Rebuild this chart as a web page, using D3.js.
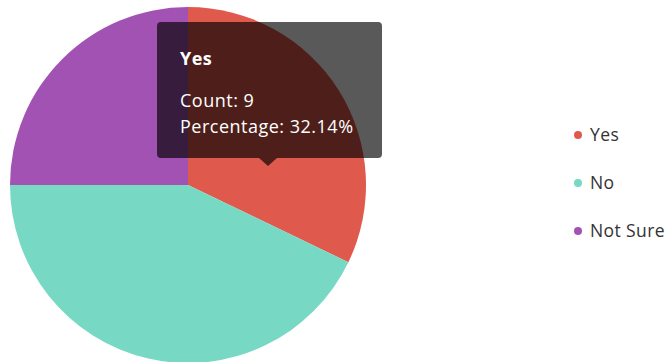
<!DOCTYPE html>
<html>
<head>
<meta charset="utf-8">
<script src="https://cdn.jsdelivr.net/npm/d3@7"></script>
<style>
  html, body { margin: 0; padding: 0; background: #fff; }
  svg { display: block; font-family: "Open Sans", Lato, sans-serif; }
</style>
</head>
<body>
<svg id="chart" width="671" height="362"></svg>
<script>
// Survey answers
const categories = ["Yes", "No", "Not Sure"];
const counts = [9, 12, 7];
const colors = ["#df5a4c", "#77d8c3", "#a152b2"];

// Answer highlighted in the tooltip
const activeCategory = "Yes";

const svg = d3.select("#chart");

const cx = 188, cy = 185, radius = 178;

const color = d3.scaleOrdinal().domain(categories).range(colors);
const data = categories.map((c, i) => ({ category: c, count: counts[i] }));
const total = d3.sum(counts);

const pie = d3.pie().sort(null).value(d => d.count);
const arc = d3.arc().innerRadius(0).outerRadius(radius);

const g = svg.append("g").attr("transform", `translate(${cx},${cy})`);
g.selectAll("path.slice")
  .data(pie(data))
  .join("path")
  .attr("class", "slice")
  .attr("d", arc)
  .attr("fill", d => color(d.data.category));

// Legend
const legend = svg.append("g").attr("transform", "translate(578,135)");
const item = legend.selectAll("g.item")
  .data(categories)
  .join("g")
  .attr("class", "item")
  .attr("transform", (d, i) => `translate(0,${i * 48})`);
item.append("circle").attr("r", 4).attr("fill", d => color(d));
item.append("text")
  .attr("x", 12)
  .attr("dy", "0.35em")
  .attr("font-size", 17.5)
  .attr("letter-spacing", 0.4)
  .attr("fill", "#333")
  .text(d => d);

// Tooltip
const active = data.find(d => d.category === activeCategory);
const pct = d3.format(".2f")(active.count / total * 100);
const tip = svg.append("g").attr("transform", "translate(157,22)");
const tw = 225, th = 136, arrowX = 111, arrowW = 9, arrowH = 8;
tip.append("path")
  .attr("d", (() => {
    const p = d3.path(), r = 4;
    p.moveTo(r, 0);
    p.lineTo(tw - r, 0); p.arcTo(tw, 0, tw, r, r);
    p.lineTo(tw, th - r); p.arcTo(tw, th, tw - r, th, r);
    p.lineTo(arrowX + arrowW, th); p.lineTo(arrowX, th + arrowH); p.lineTo(arrowX - arrowW, th);
    p.lineTo(r, th); p.arcTo(0, th, 0, th - r, r);
    p.lineTo(0, r); p.arcTo(0, 0, r, 0, r);
    p.closePath();
    return p.toString();
  })())
  .attr("fill", "rgba(0,0,0,0.65)");
const lines = [
  { text: active.category, y: 43, bold: true },
  { text: `Count: ${active.count}`, y: 85 },
  { text: `Percentage: ${pct}%`, y: 111 }
];
tip.selectAll("text")
  .data(lines)
  .join("text")
  .attr("x", 23)
  .attr("y", d => d.y)
  .attr("font-size", 18)
  .attr("letter-spacing", 0.5)
  .attr("font-weight", d => d.bold ? "bold" : "normal")
  .attr("fill", "#fff")
  .text(d => d.text);
</script>
</body>
</html>
